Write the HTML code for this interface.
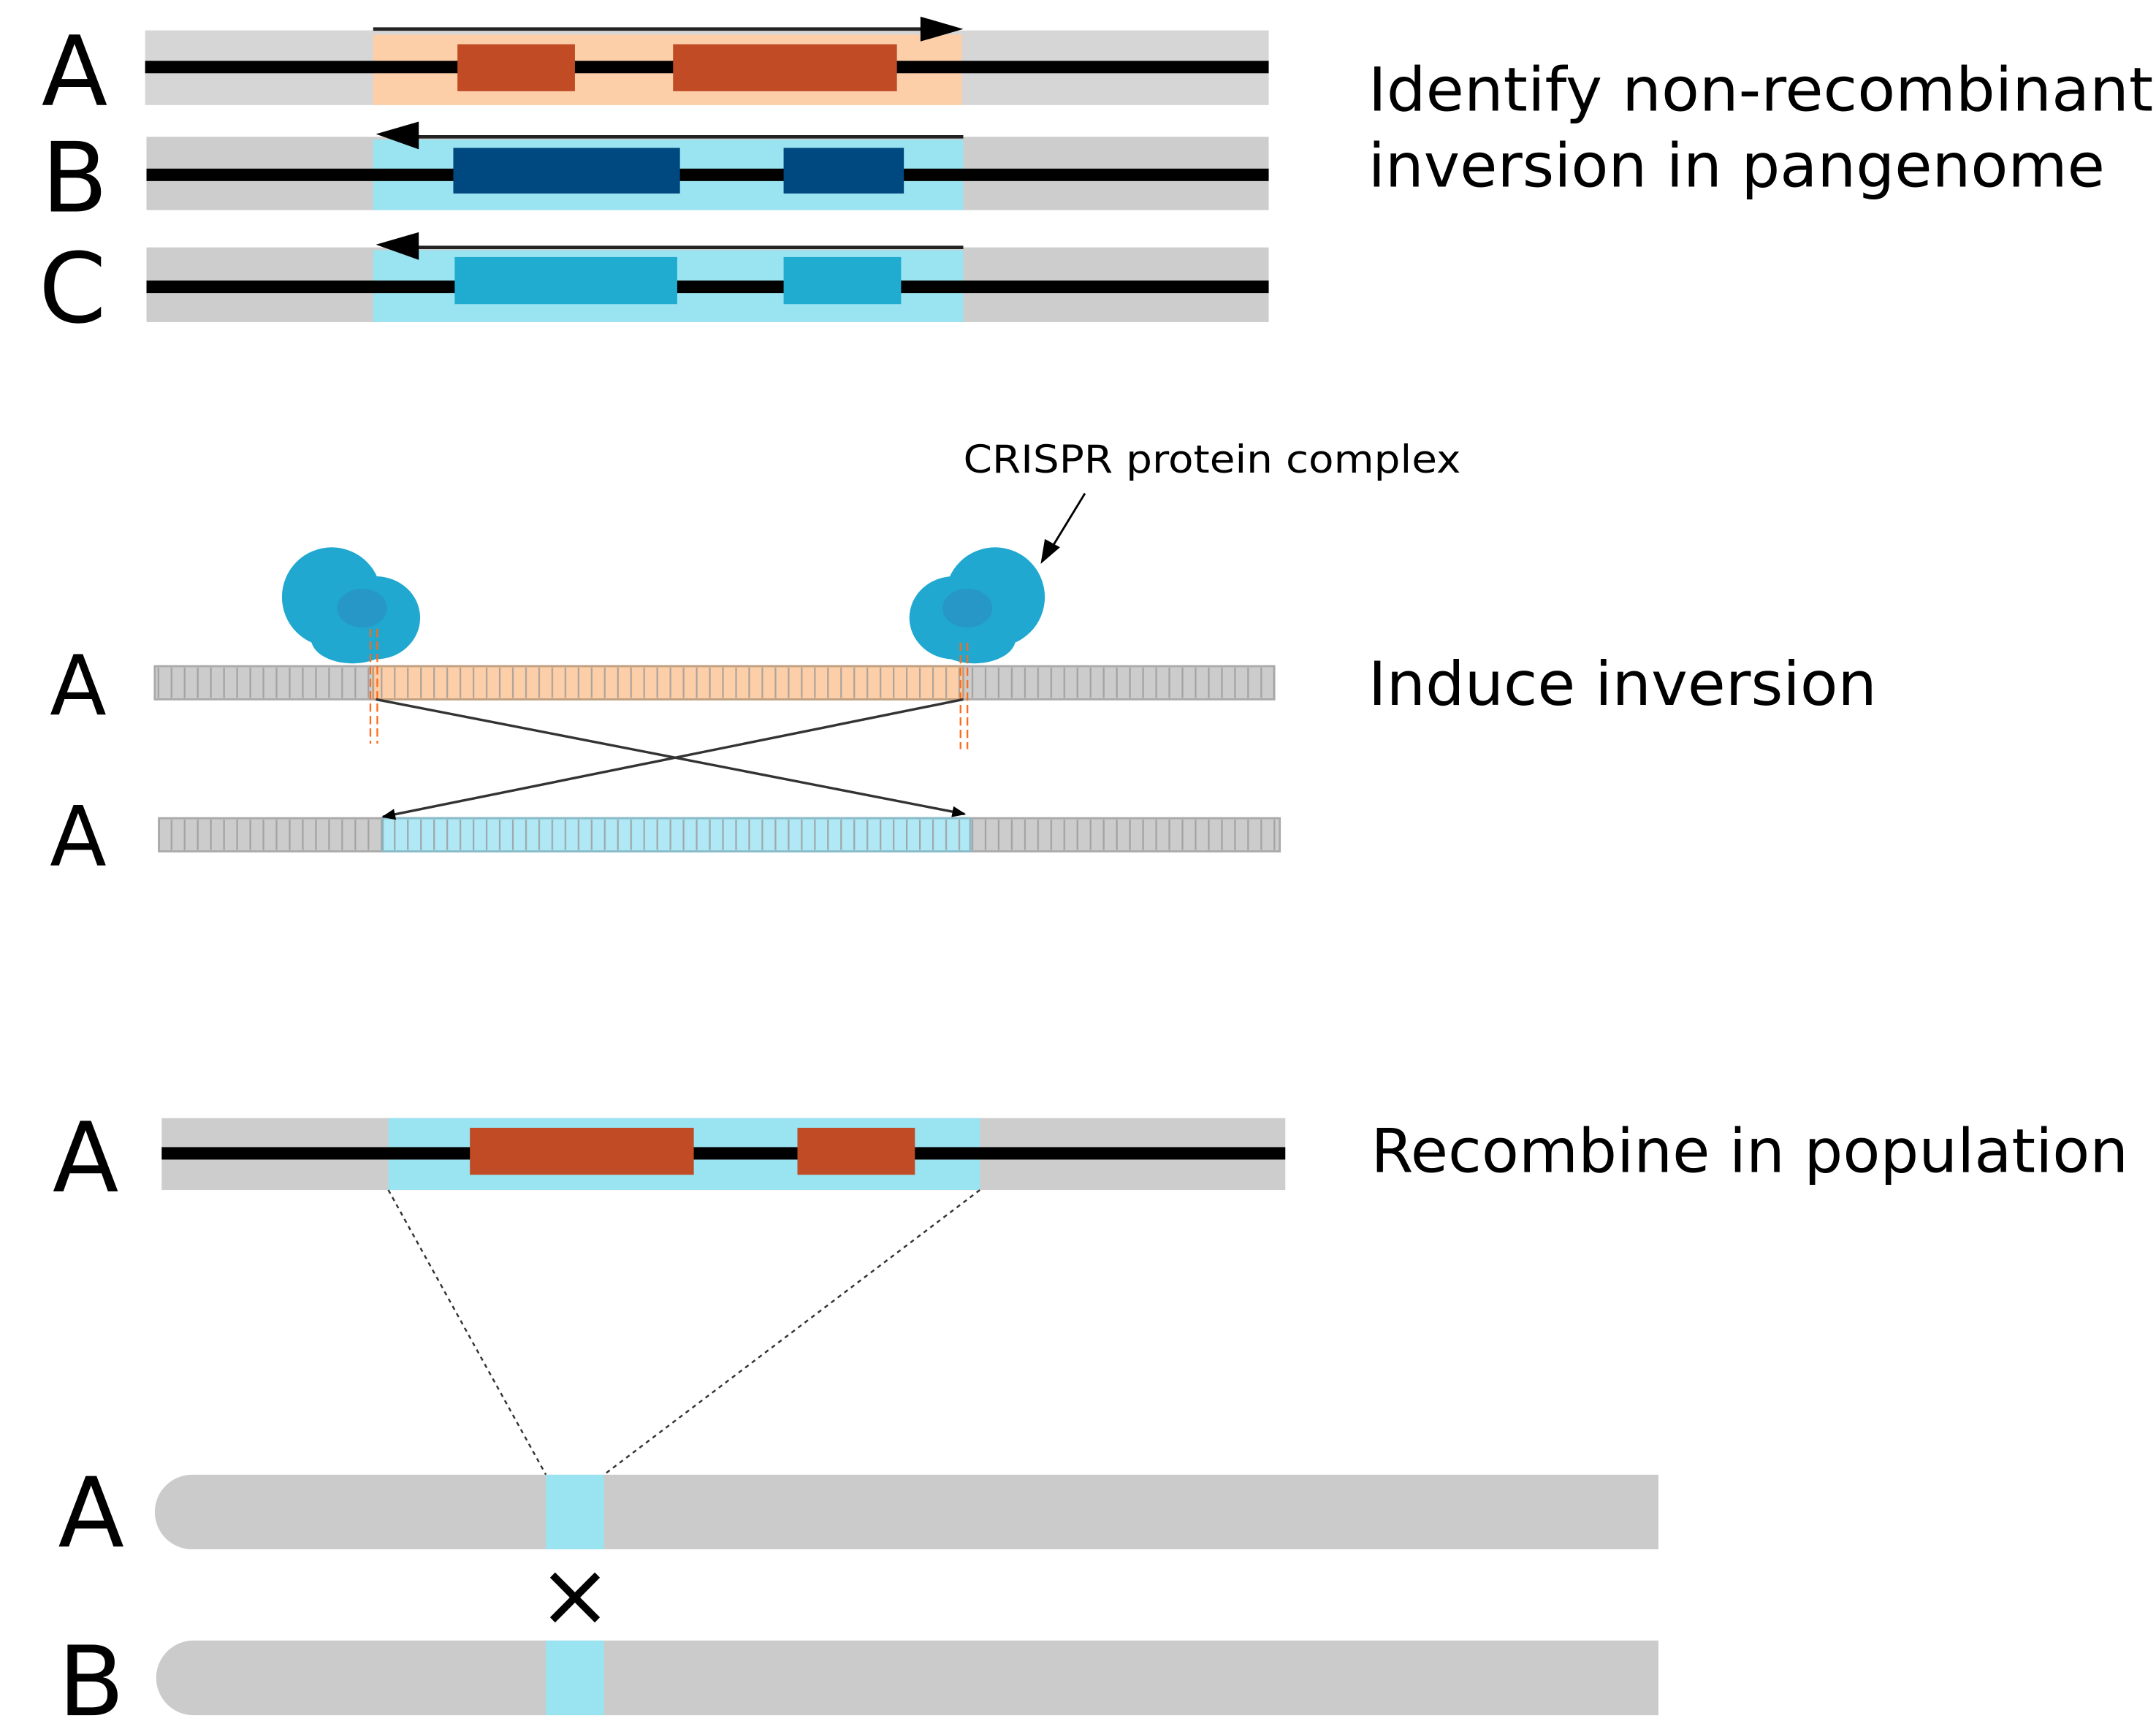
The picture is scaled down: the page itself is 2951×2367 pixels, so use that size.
<!DOCTYPE html>
<html><head><meta charset="utf-8"><style>
html,body{margin:0;padding:0;background:#fff;}
svg{display:block;}
text{font-family:"DejaVu Sans","Liberation Sans",sans-serif;fill:#000;}
</style></head><body>
<svg width="2951" height="2367" viewBox="0 0 1560 1251" preserveAspectRatio="none" xmlns="http://www.w3.org/2000/svg">
<defs>
<pattern id="tk" x="0" y="0" width="9.5" height="10" patternUnits="userSpaceOnUse">
<rect x="0" y="0" width="1.2" height="10" fill="#999"/>
</pattern>
<marker id="ah" markerWidth="10" markerHeight="10" refX="9" refY="5" orient="auto" markerUnits="userSpaceOnUse">
<path d="M0,1 L10,5 L0,9 Z" fill="#000"/>
</marker>
</defs>

<!-- Section 1 -->
<text x="30" y="76" font-size="70" font-family="Liberation Sans">A</text>
<text x="30" y="153" font-size="70" font-family="Liberation Sans">B</text>
<text x="28" y="233" font-size="70" font-family="Liberation Sans">C</text>

<rect x="105" y="22" width="813" height="54" fill="#d6d6d6"/>
<rect x="270" y="25" width="426" height="51" fill="#fdcfa9"/>
<rect x="105" y="44" width="813" height="9" fill="#000"/>
<rect x="331" y="32" width="85" height="34" fill="#c04b25"/>
<rect x="487" y="32" width="162" height="34" fill="#c04b25"/>
<line x1="270" y1="21" x2="676" y2="21" stroke="#222" stroke-width="2.5"/>
<path d="M666,12 L697,21 L666,30 Z" fill="#000"/>

<rect x="106" y="99" width="812" height="53" fill="#cdcdcd"/>
<rect x="270" y="101" width="427" height="51" fill="#9ae3f0"/>
<rect x="106" y="122" width="812" height="9" fill="#000"/>
<rect x="328" y="107" width="164" height="33" fill="#004880"/>
<rect x="567" y="107" width="87" height="33" fill="#004880"/>
<line x1="290" y1="99" x2="697" y2="99" stroke="#222" stroke-width="2.5"/>
<path d="M303,88 L272,97 L303,108 Z" fill="#000"/>

<rect x="106" y="179" width="812" height="54" fill="#cdcdcd"/>
<rect x="270" y="181" width="427" height="52" fill="#9ae3f0"/>
<rect x="106" y="203" width="812" height="9" fill="#000"/>
<rect x="329" y="186" width="161" height="34" fill="#20acd0"/>
<rect x="567" y="186" width="85" height="34" fill="#20acd0"/>
<line x1="290" y1="179" x2="697" y2="179" stroke="#222" stroke-width="2.5"/>
<path d="M303,168 L272,177 L303,188 Z" fill="#000"/>

<text x="990" y="80" font-size="44" textLength="568" lengthAdjust="spacingAndGlyphs">Identify non-recombinant</text>
<text x="990" y="135" font-size="44" textLength="533" lengthAdjust="spacingAndGlyphs">inversion in pangenome</text>

<!-- Section 2 -->
<text x="697" y="342" font-size="28" textLength="360" lengthAdjust="spacingAndGlyphs">CRISPR protein complex</text>
<line x1="785" y1="357" x2="760" y2="398" stroke="#000" stroke-width="1.5"/>
<path d="M753,408 L756,390 L767,396 Z" fill="#000"/>

<text x="36" y="517" font-size="60" font-family="Liberation Sans">A</text>
<text x="36" y="626" font-size="60" font-family="Liberation Sans">A</text>

<rect x="112" y="482" width="810" height="24" fill="#cccccc" stroke="#aaa" stroke-width="1.5"/>
<rect x="270" y="482" width="427" height="24" fill="#fdcfa9" stroke="#c0a080" stroke-width="1.5"/>
<rect x="112" y="483" width="810" height="22" fill="url(#tk)" opacity="0.8"/>

<rect x="115" y="592" width="811" height="24" fill="#cccccc" stroke="#aaa" stroke-width="1.5"/>
<rect x="277" y="592" width="425" height="24" fill="#b0e8f5" stroke="#88bbc8" stroke-width="1.5"/>
<rect x="115" y="593" width="811" height="22" fill="url(#tk)" opacity="0.8"/>

<!-- blobs -->
<g fill="#20a8d0">
<ellipse cx="240" cy="432" rx="36" ry="36"/>
<ellipse cx="272" cy="447" rx="32" ry="30"/>
<ellipse cx="255" cy="462" rx="30" ry="18"/>
<ellipse cx="720" cy="432" rx="36" ry="36"/>
<ellipse cx="690" cy="447" rx="32" ry="30"/>
<ellipse cx="705" cy="462" rx="30" ry="18"/>
</g>
<g fill="#2b8cc0" opacity="0.6">
<ellipse cx="262" cy="440" rx="18" ry="14"/>
<ellipse cx="700" cy="440" rx="18" ry="14"/>
</g>
<g stroke="#ff6a1a" stroke-width="1.2" stroke-dasharray="6,3">
<line x1="268" y1="455" x2="268" y2="538"/><line x1="273" y1="455" x2="273" y2="538"/>
<line x1="695" y1="465" x2="695" y2="542"/><line x1="700" y1="465" x2="700" y2="542"/>
</g>
<line x1="272" y1="506" x2="698" y2="589" stroke="#333" stroke-width="1.8" marker-end="url(#ah)"/>
<line x1="697" y1="506" x2="277" y2="591" stroke="#333" stroke-width="1.8" marker-end="url(#ah)"/>

<text x="990" y="510" font-size="44" textLength="368" lengthAdjust="spacingAndGlyphs">Induce inversion</text>

<!-- Section 3 -->
<text x="38" y="862" font-size="70" font-family="Liberation Sans">A</text>
<rect x="117" y="809" width="813" height="52" fill="#cdcdcd"/>
<rect x="281" y="809" width="428" height="52" fill="#9ae3f0"/>
<rect x="117" y="830" width="813" height="9" fill="#000"/>
<rect x="340" y="816" width="162" height="34" fill="#c04b25"/>
<rect x="577" y="816" width="85" height="34" fill="#c04b25"/>
<text x="992" y="848" font-size="44" textLength="548" lengthAdjust="spacingAndGlyphs">Recombine in population</text>

<line x1="281" y1="861" x2="395" y2="1067" stroke="#333" stroke-width="1.3" stroke-dasharray="3,3"/>
<line x1="709" y1="861" x2="437" y2="1067" stroke="#333" stroke-width="1.3" stroke-dasharray="3,3"/>

<text x="42" y="1119" font-size="70" font-family="Liberation Sans">A</text>
<path d="M139,1067 H1200 V1121 H139 A27,27 0 0 1 139,1067 Z" fill="#cbcbcb"/>
<rect x="395" y="1067" width="42" height="54" fill="#9ae3f0"/>
<text x="416" y="1176" font-size="64" text-anchor="middle" font-family="Liberation Sans">×</text>
<text x="42" y="1241" font-size="70" font-family="Liberation Sans">B</text>
<path d="M140,1187 H1200 V1241 H140 A27,27 0 0 1 140,1187 Z" fill="#cbcbcb"/>
<rect x="395" y="1187" width="42" height="54" fill="#9ae3f0"/>
</svg>
</body></html>
